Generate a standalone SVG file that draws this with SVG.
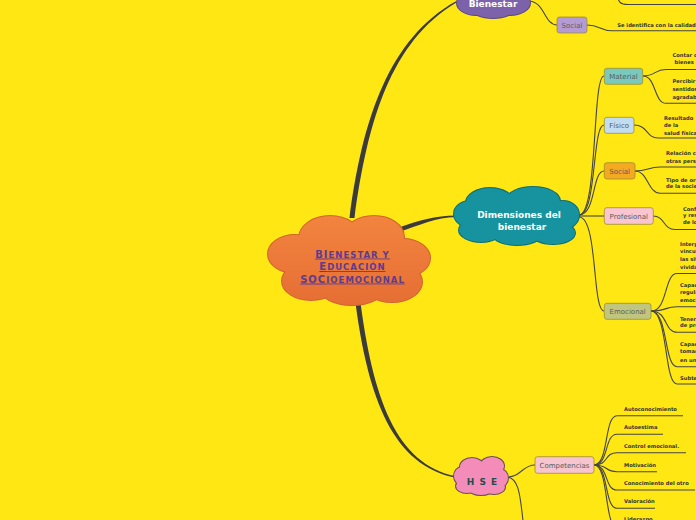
<svg xmlns="http://www.w3.org/2000/svg" width="696" height="520" viewBox="0 0 696 520">
<defs>
<style>
.bg{fill:#FFE714}
.br{fill:#3b3b3b}
.cn{fill:none;stroke:#454545;stroke-width:1.1}
.box{stroke:#9c8a2c;stroke-opacity:0.75;stroke-width:1}
.lbl{font-family:'DejaVu Sans',Verdana,sans-serif;font-size:7px;fill:#5b5b5b;text-anchor:middle}
.t{font-family:'DejaVu Sans',Verdana,sans-serif;font-size:5.2px;font-weight:bold;fill:#333}
.ct{font-family:'DejaVu Sans',Verdana,sans-serif;font-weight:bold;font-size:9px;fill:#fff;text-anchor:middle}
.mt{font-family:'DejaVu Sans',Verdana,sans-serif;font-weight:bold;fill:#5C3B8F;text-anchor:middle;letter-spacing:1px;text-decoration:underline}
</style>
<linearGradient id="gOr" gradientUnits="userSpaceOnUse" x1="0" y1="216" x2="0" y2="305">
<stop offset="0" stop-color="#F2843F"/><stop offset="1" stop-color="#E66E34"/>
</linearGradient>
<g id="cMain">
<ellipse cx="330" cy="238" rx="31" ry="22"/><ellipse cx="374" cy="237" rx="30" ry="21"/>
<ellipse cx="403" cy="258" rx="27" ry="19"/><ellipse cx="392" cy="282" rx="30" ry="20"/>
<ellipse cx="352" cy="288" rx="32" ry="17"/><ellipse cx="311" cy="281" rx="29" ry="19"/>
<ellipse cx="295" cy="254" rx="27" ry="19"/><ellipse cx="350" cy="261" rx="62" ry="33"/>
</g>
<g id="cDim">
<ellipse cx="490" cy="203" rx="24" ry="15"/><ellipse cx="533" cy="201" rx="27" ry="14"/>
<ellipse cx="563" cy="215" rx="16" ry="14"/><ellipse cx="553" cy="233" rx="22" ry="11"/>
<ellipse cx="517" cy="235" rx="24" ry="10"/><ellipse cx="481" cy="230" rx="22" ry="12"/>
<ellipse cx="470" cy="214" rx="16" ry="13"/><ellipse cx="517" cy="217" rx="50" ry="20"/>
</g>
<g id="cHse">
<ellipse cx="472" cy="467" rx="12" ry="9"/><ellipse cx="492" cy="466" rx="12" ry="9"/>
<ellipse cx="500" cy="478" rx="8" ry="9"/><ellipse cx="494" cy="487" rx="11" ry="7"/>
<ellipse cx="481" cy="489" rx="12" ry="6"/><ellipse cx="467" cy="486" rx="11" ry="7"/>
<ellipse cx="462" cy="476" rx="8" ry="9"/><ellipse cx="481" cy="477" rx="20" ry="12"/>
</g>
<g id="cBien">
<ellipse cx="476" cy="3" rx="19" ry="12"/><ellipse cx="510" cy="3" rx="20" ry="12"/>
<ellipse cx="493" cy="8" rx="22" ry="10"/><ellipse cx="467" cy="-4" rx="10" ry="10"/>
<ellipse cx="493" cy="-5" rx="37" ry="14"/>
</g>
</defs>
<rect class="bg" x="0" y="0" width="696" height="520"/>

<g id="connectors">
<path class="br" d="M349.5,218 C362.5,119 389,38.5 456,1.3 L456,2.7 C391,41.5 367.5,121 354.5,218 Z"/>
<path class="br" d="M395,229 C420,220 435,215.6 456,215.5 L456,216.9 C436,217.4 421,224.5 396,233 Z"/>
<path class="br" d="M354.5,295 C367.5,401 394,466 456,477.7 L456,476.3 C396,464 372.5,399 359.5,295 Z"/>
<path class="cn" d="M528,1 C545,1 544,25 557,25"/>
<path class="cn" d="M617,-4 C619,2 620,4.5 628,4.5 L696,4.5"/>
<path class="cn" d="M587,25 C600,25 600,30.7 612,30.7 L696,30.7"/>
<path class="cn" d="M579,215 C598,215 592,76 604,76"/>
<path class="cn" d="M579,215 C597,215 592,125 604,125"/>
<path class="cn" d="M579,215 C596,215 592,171 604,171"/>
<path class="cn" d="M579,216 C592,216 594,216 604,216"/>
<path class="cn" d="M579,217 C598,217 592,311 604,311"/>
<path class="cn" d="M643,76 C656,76 654,69.5 666,69.5 L696,69.5"/>
<path class="cn" d="M643,76 C656,76 654,103.3 666,103.3 L696,103.3"/>
<path class="cn" d="M634,125 C648,125 646,138 658,138 L696,138"/>
<path class="cn" d="M635,171 C648,171 648,167 660,167 L696,167"/>
<path class="cn" d="M635,171 C648,171 648,193.3 660,193.3 L696,193.3"/>
<path class="cn" d="M653,216 C665,216 663,229.5 675,229.5 L696,229.5"/>
<path class="cn" d="M651,311 C668,311 664,273.5 677,273.5 L696,273.5"/>
<path class="cn" d="M651,311 C668,311 664,306.7 677,306.7 L696,306.7"/>
<path class="cn" d="M651,311 C668,311 664,332.3 677,332.3 L696,332.3"/>
<path class="cn" d="M651,311 C668,311 664,366.7 677,366.7 L696,366.7"/>
<path class="cn" d="M651,311 C668,311 664,384 677,384 L696,384"/>
<path class="cn" d="M506,477 C522,477 522,465 535,465"/>
<path class="cn" d="M506,477 C518,477 520,492 523,521"/>
<path class="cn" d="M594,465 C609,465 604,415.7 617,415.7 L683,415.7"/>
<path class="cn" d="M594,465 C609,465 604,434.3 617,434.3 L663,434.3"/>
<path class="cn" d="M594,465 C609,465 604,452.7 617,452.7 L686,452.7"/>
<path class="cn" d="M594,465 C609,465 604,471.7 617,471.7 L657,471.7"/>
<path class="cn" d="M594,465 C609,465 604,490 617,490 L695,490"/>
<path class="cn" d="M594,465 C609,465 604,508.3 617,508.3 L655,508.3"/>
<path class="cn" d="M594,465 C609,465 604,527 617,527 L660,527"/>
</g>

<g id="central">
<use href="#cMain" fill="#D0642C" stroke="#D0642C" stroke-width="2"/>
<use href="#cMain" fill="url(#gOr)"/>
<text class="mt" x="352.5" y="257.5"><tspan font-size="10">BI</tspan><tspan font-size="8.5">ENESTAR Y</tspan></text>
<text class="mt" x="352.5" y="270"><tspan font-size="10">E</tspan><tspan font-size="8.5">DUCACIÓN</tspan></text>
<text class="mt" x="352.5" y="282.5"><tspan font-size="10">SOC</tspan><tspan font-size="8.5">IOEMOCIONAL</tspan></text>
</g>

<g id="bienestar">
<use href="#cBien" fill="#5B4785" stroke="#5B4785" stroke-width="2"/>
<use href="#cBien" fill="#7B62AA"/>
<text class="ct" x="493" y="7">Bienestar</text>
</g>

<g id="social-top">
<rect class="box" x="557" y="17" width="30" height="16" rx="2.5" fill="#B59BD3"/>
<text class="lbl" x="572" y="27.5">Social</text>
<text class="t" x="617.3" y="27">Se identifica con la calidad</text>
</g>

<g id="dimensiones">
<use href="#cDim" fill="#0E6C74" stroke="#0E6C74" stroke-width="2"/>
<use href="#cDim" fill="#16939E"/>
<text class="ct" x="519" y="218">Dimensiones del</text>
<text class="ct" x="522" y="230">bienestar</text>
</g>

<g id="material">
<rect class="box" x="604.3" y="68.3" width="38.4" height="16" rx="2.5" fill="#79CABD"/>
<text class="lbl" x="623.5" y="79">Material</text>
<text class="t" x="672.5" y="56.5">Contar con</text>
<text class="t" x="674.5" y="64.2">bienes</text>
<text class="t" x="672.5" y="83.2">Percibir</text>
<text class="t" x="672.5" y="90.8">sentidos</text>
<text class="t" x="672.5" y="98.8">agradable</text>
</g>

<g id="fisico">
<rect class="box" x="604.3" y="117.3" width="29.7" height="16" rx="2.5" fill="#C3DDF0"/>
<text class="lbl" x="619.2" y="128">Físico</text>
<text class="t" x="664" y="119.5">Resultado</text>
<text class="t" x="664" y="126.5">de la</text>
<text class="t" x="664" y="135.2">salud física</text>
</g>

<g id="social-dim">
<rect class="box" x="604.3" y="162.7" width="30.7" height="16.3" rx="2.5" fill="#F3A920"/>
<text class="lbl" x="619.7" y="173.5">Social</text>
<text class="t" x="666" y="155.2">Relación con</text>
<text class="t" x="666" y="162.5">otras personas</text>
<text class="t" x="666" y="181.5">Tipo de organización</text>
<text class="t" x="666" y="188.2">de la sociedad</text>
</g>

<g id="profesional">
<rect class="box" x="604.3" y="207.7" width="49" height="16.6" rx="2.5" fill="#F8C5D0"/>
<text class="lbl" x="628.8" y="218.6">Profesional</text>
<text class="t" x="683" y="210.5">Confianza</text>
<text class="t" x="683" y="216.8">y respeto</text>
<text class="t" x="683" y="224">de los</text>
</g>

<g id="emocional">
<rect class="box" x="604.3" y="303.3" width="46.7" height="16" rx="2.5" fill="#C0C67E"/>
<text class="lbl" x="627.7" y="313.9">Emocional</text>
<text class="t" x="680" y="245.8">Interpretar</text>
<text class="t" x="680" y="252.5">vincular</text>
<text class="t" x="680" y="260.5">las situaciones</text>
<text class="t" x="680" y="268.8">vividas</text>
<text class="t" x="680" y="286.5">Capacidad</text>
<text class="t" x="680" y="293.8">regular</text>
<text class="t" x="680" y="302.2">emociones</text>
<text class="t" x="680" y="320.5">Tener sentido</text>
<text class="t" x="680" y="327.2">de propósito</text>
<text class="t" x="680" y="345.5">Capacidad de</text>
<text class="t" x="680" y="353.2">tomar decisiones</text>
<text class="t" x="680" y="361.5">en un momento</text>
<text class="t" x="680" y="379.8">Subtema</text>
</g>

<g id="hse">
<use href="#cHse" fill="#6E4A58" stroke="#6E4A58" stroke-width="2"/>
<use href="#cHse" fill="#F38CB9"/>
<text class="ct" x="482" y="484.5" fill="#1D4F4A" style="fill:#1D4F4A" word-spacing="2">H S E</text>
</g>

<g id="competencias">
<rect class="box" x="535" y="456.7" width="59" height="16.6" rx="2.5" fill="#F7C5CF"/>
<text class="lbl" x="564.5" y="467.6">Competencias</text>
<text class="t" x="624" y="410.5">Autoconocimiento</text>
<text class="t" x="624" y="429.2">Autoestima</text>
<text class="t" x="624" y="447.5">Control emocional.</text>
<text class="t" x="624" y="466.5">Motivación</text>
<text class="t" x="624" y="484.8">Conocimiento del otro</text>
<text class="t" x="624" y="503.2">Valoración</text>
<text class="t" x="624" y="521">Liderazgo</text>
</g>
</svg>
